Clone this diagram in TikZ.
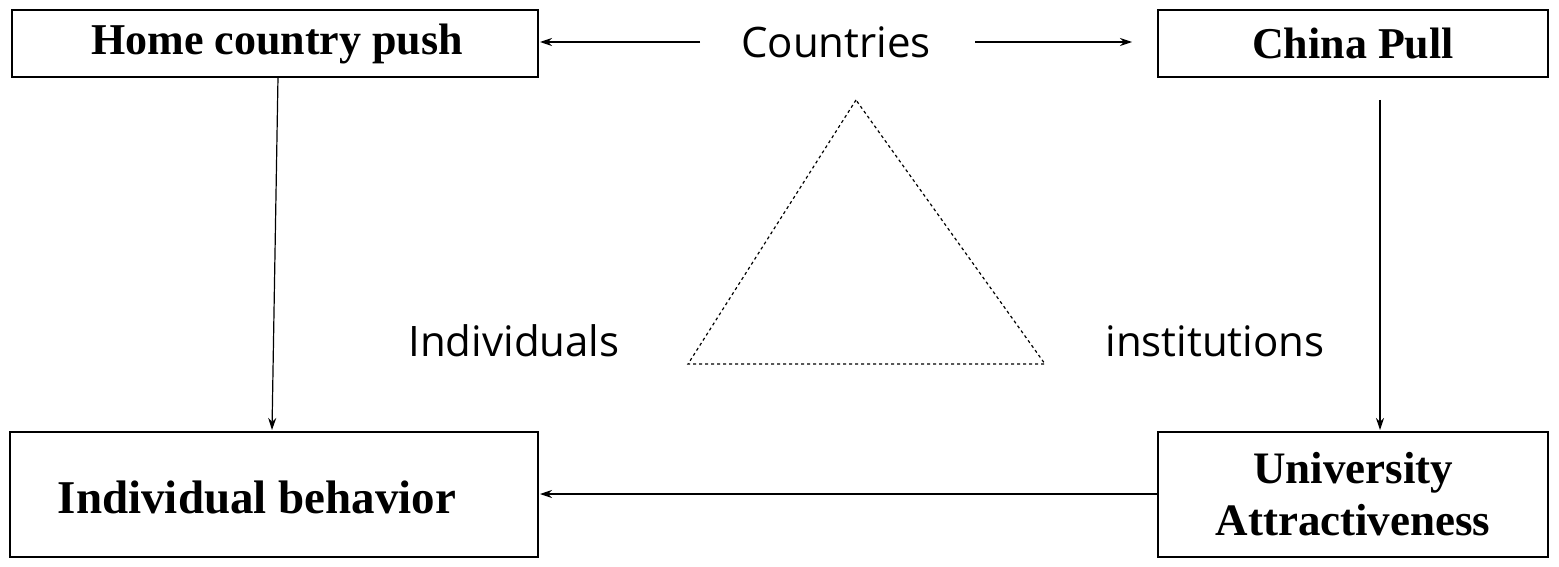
\documentclass[tikz,border=0pt]{standalone}
\usepackage{fontspec}
\setmainfont{Liberation Serif}
\newfontfamily\sansf{Open Sans}
\usetikzlibrary{arrows.meta}
\begin{document}
\begin{tikzpicture}[x=1pt,y=-1pt,
  box/.style={draw,line width=1.4pt,inner sep=0pt},
  lbl/.style={font=\bfseries\fontsize{44}{48}\selectfont},
  sl/.style={font=\sansf\fontsize{42}{46}\selectfont},
  arr/.style={line width=1.2pt,-{Stealth[length=12pt,width=8pt]}}]
\useasboundingbox (0,0) rectangle (1559,567);
\draw[box] (12,10) rectangle (538,77);
\node[lbl] (home) at (277,43.5) {Home country push};
\draw[box] (1158,10) rectangle (1548,77);
\node[lbl] (china) at (1353,43.5) {China Pull};
\draw[box] (10,432) rectangle (538,557);
\node[lbl,font=\bfseries\fontsize{47}{50}\selectfont] (ind) at (257,497) {Individual behavior};
\draw[box] (1158,432) rectangle (1548,557);
\node[lbl,align=center,font=\bfseries\fontsize{45}{52}\selectfont] (uni) at (1353,494) {University\\Attractiveness};
\node[sl] (ctry) at (836,42) {Countries};
\node[sl] (indv) at (514,341) {Individuals};
\node[sl] (inst) at (1215,341) {institutions};
\coordinate (c1) at (700,42); \coordinate (h1) at (540,42);
\coordinate (c2) at (975,42); \coordinate (h2) at (1132,42);
\draw[arr] (c1) -- (h1);
\draw[arr] (c2) -- (h2);
\draw[arr] (278,77) -- (272,430);
\draw[arr] (1380,100) -- (1380,430);
\draw[arr] (1158,494) -- (540,494);
\draw[dashed,line width=1.2pt] (856,100) -- (688,364) -- (1045,364) -- cycle;
\end{tikzpicture}
\end{document}
